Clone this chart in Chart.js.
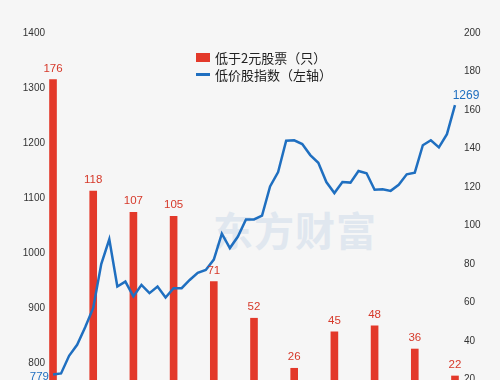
<!DOCTYPE html>
<html lang="zh-CN">
<head>
  <meta charset="UTF-8" />
  <title>低于2元股票与低价股指数</title>
  <script src="https://cdn.jsdelivr.net/npm/chart.js"></script>
  <style>
    html, body { margin: 0; padding: 0; background: #f6f6f6; overflow: hidden; }
    .wrap { position: relative; width: 500px; height: 429px; }
    .wrap canvas { position: relative; z-index: 1; }
    .mark {
      position: absolute; left: 213px; top: 200px; z-index: 0;
      font: bold 40px "Noto Sans CJK SC"; color: #e0e7ef; letter-spacing: 1px;
    }
    .legend {
      position: absolute; left: 196px; top: 49px; z-index: 2;
      font: 13px "Noto Sans CJK SC"; color: #222; line-height: 17px;
    }
    .legend div { display: flex; align-items: center; }
    .legend .box { width: 14px; height: 9px; background: #e3392a; margin-right: 5px; }
    .legend .ln { width: 14px; height: 3px; background: #1f6fc0; margin-right: 5px; }
  </style>
</head>
<body>
  <div class="wrap">
    <div class="mark">东方财富</div>
    <canvas id="chart" width="500" height="429"></canvas>
    <div class="legend">
      <div><span class="box"></span>低于2元股票（只）</div>
      <div><span class="ln"></span>低价股指数（左轴）</div>
    </div>
  </div>

  <script>
    // 51 periods on the x axis, bars every 5th period
    const periods = Array.from({ length: 51 }, (_, i) => String(i + 1));
    const barEvery = 5;

    // low price stock count (right axis)
    const stockCount = [176, 118, 107, 105, 71, 52, 26, 45, 48, 36, 22];

    // low price index (left axis)
    const lowPriceIndex = [
      779, 781, 813, 833, 865, 900, 980, 1025, 939, 948,
      921, 942, 927, 939, 919, 936, 936, 951, 964, 969,
      988, 1035, 1009, 1030, 1061, 1061, 1068, 1121, 1147, 1204,
      1205, 1198, 1178, 1164, 1129, 1109, 1129, 1128, 1149, 1145,
      1115, 1116, 1113, 1124, 1143, 1146, 1196, 1205, 1192, 1216,
      1269
    ];

    const leftTicks = [700, 1400, 100];
    const rightTicks = [0, 200, 20];

    const barData = periods.map((_, i) => i % barEvery === 0 ? stockCount[i / barEvery] : null);

    const labelPlugin = {
      id: 'valueLabels',
      afterDatasetsDraw(chart) {
        const ctx = chart.ctx;
        ctx.save();
        ctx.font = '11.5px "Liberation Sans"';
        ctx.textAlign = 'center';
        ctx.textBaseline = 'bottom';
        ctx.fillStyle = '#d6392a';
        const bars = chart.getDatasetMeta(1).data;
        barData.forEach((v, i) => {
          if (v === null) return;
          const el = bars[i];
          ctx.fillText(String(v), el.x, el.y - 5);
        });
        const pts = chart.getDatasetMeta(0).data;
        ctx.fillStyle = '#1f6fc0';
        ctx.textBaseline = 'middle';
        ctx.textAlign = 'right';
        ctx.fillText(String(lowPriceIndex[0]), pts[0].x - 4, pts[0].y + 2);
        const last = pts.length - 1;
        ctx.font = '12px "Liberation Sans"';
        ctx.textAlign = 'center';
        ctx.fillText(String(lowPriceIndex[last]), pts[last].x + 11, pts[last].y - 9);
        ctx.restore();
      }
    };

    const tickStyle = { color: '#333', padding: 5, font: { size: 10, family: 'Liberation Sans' }, callback: v => String(v) };

    new Chart(document.getElementById('chart'), {
      data: {
        labels: periods,
        datasets: [
          {
            type: 'line',
            label: '低价股指数（左轴）',
            data: lowPriceIndex,
            yAxisID: 'y',
            borderColor: '#1f6fc0',
            borderWidth: 2.5,
            pointRadius: 0,
            tension: 0,
            fill: false
          },
          {
            type: 'bar',
            label: '低于2元股票（只）',
            data: barData,
            yAxisID: 'y1',
            backgroundColor: '#e3392a',
            barPercentage: 0.95,
            categoryPercentage: 1
          }
        ]
      },
      options: {
        responsive: false,
        animation: false,
        layout: { padding: { top: 33, bottom: 3, left: 0, right: 0 } },
        plugins: {
          legend: { display: false },
          tooltip: { enabled: false }
        },
        scales: {
          x: { display: false, offset: true },
          y: {
            position: 'left',
            min: leftTicks[0], max: leftTicks[1],
            ticks: { ...tickStyle, stepSize: leftTicks[2], padding: 4 },
            grid: { display: false, drawTicks: false },
            border: { display: false },
            afterFit(scale) { scale.width = 49; }
          },
          y1: {
            position: 'right',
            min: rightTicks[0], max: rightTicks[1],
            ticks: { ...tickStyle, stepSize: rightTicks[2] },
            grid: { display: false, drawTicks: false },
            border: { display: false },
            afterFit(scale) { scale.width = 41; }
          }
        }
      },
      plugins: [labelPlugin]
    });
  </script>
</body>
</html>
